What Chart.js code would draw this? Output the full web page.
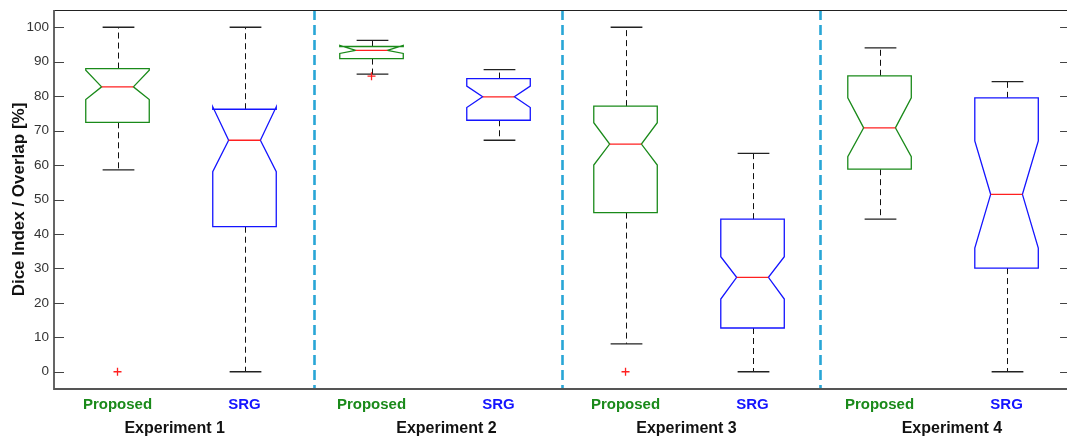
<!DOCTYPE html>
<html>
<head>
<meta charset="utf-8">
<script src="https://cdn.jsdelivr.net/npm/chart.js@4.4.1/dist/chart.umd.min.js"></script>
<style>
  html, body { margin:0; padding:0; background:#fff; overflow:hidden; }
  #box { display:block; }
</style>
</head>
<body>
<canvas id="box" width="1067" height="439"></canvas>
<script>
// ====== Data ======
const experiments = ['Experiment 1','Experiment 2','Experiment 3','Experiment 4'];
const methods     = ['Proposed','SRG'];
// one entry per box, in drawing order: E1-Proposed, E1-SRG, E2-Proposed, ...
const whiskerLo = [58.6,  0.0, 86.4, 67.2,  8.1,  0.0, 44.3,  0.0];
const q1        = [72.4, 42.1, 90.9, 73.0, 46.2, 12.7, 58.8, 30.1];
const notchLo   = [79.0, 58.1, 92.4, 76.7, 60.0, 21.1, 62.4, 35.9];
const median    = [82.7, 67.2, 93.3, 79.8, 66.1, 27.4, 70.8, 51.5];
const notchHi   = [87.5, 76.9, 94.7, 82.9, 72.3, 33.4, 79.5, 67.0];
const q3        = [88.0, 76.2, 94.4, 85.1, 77.1, 44.3, 85.9, 79.5];
const whiskerHi = [100,  100,  96.2, 87.7, 100,  63.4, 94.0, 84.2];
const outliers  = [[0], [], [85.8], [], [0], [], [], []];
const dividers  = [2.55, 4.5, 6.53];
const yTicks    = [0,10,20,30,40,50,60,70,80,90,100];

// ====== Style / layout ======
const GREEN = '#1a8a1a', BLUE = '#1414ff', RED = '#ff2020', CYAN = '#29a6d6';
const methodColor = [GREEN, BLUE];
const BOX_W = 0.5;                             // box width, x units
const X_END = 8.5;                             // axes box ends just past the picture
const groupLabelAt = [1.45, 3.59, 5.48, 7.57]; // where the experiment names sit, x units
const FONT = '"Liberation Sans", Arial, Helvetica, sans-serif';

const outlierPts = [];
outliers.forEach((arr,i) => arr.forEach(v => outlierPts.push({ x:i+1, y:v })));

// ====== Box plot plugin ======
const boxPlugin = {
  id:'boxplot',
  beforeDatasetsDraw(chart){
    const { ctx, chartArea:a, scales:{ x, y } } = chart;
    ctx.save();
    // dividers
    ctx.strokeStyle = CYAN; ctx.lineWidth = 2.6; ctx.setLineDash([10,5]);
    dividers.forEach(d => {
      const px = Math.round(x.getPixelForValue(d)) + 0.5;
      ctx.beginPath(); ctx.moveTo(px, a.top); ctx.lineTo(px, a.bottom); ctx.stroke();
    });
    median.forEach((m,i) => {
      const c = i+1;
      const L = x.getPixelForValue(c - BOX_W/2), R = x.getPixelForValue(c + BOX_W/2);
      const cx = Math.round(x.getPixelForValue(c)) + 0.5;
      const inset = (R-L)/4;
      const Y = v => y.getPixelForValue(v);
      // whiskers
      ctx.strokeStyle = '#111'; ctx.lineWidth = 1; ctx.setLineDash([6,4]);
      ctx.beginPath();
      ctx.moveTo(cx, Y(q3[i])); ctx.lineTo(cx, Y(whiskerHi[i]));
      ctx.moveTo(cx, Y(q1[i])); ctx.lineTo(cx, Y(whiskerLo[i]));
      ctx.stroke();
      ctx.setLineDash([]); ctx.lineWidth = 1.3; ctx.strokeStyle = '#222';
      ctx.beginPath();
      ctx.moveTo(cx - inset, Y(whiskerHi[i])); ctx.lineTo(cx + inset, Y(whiskerHi[i]));
      ctx.moveTo(cx - inset, Y(whiskerLo[i])); ctx.lineTo(cx + inset, Y(whiskerLo[i]));
      ctx.stroke();
      // notched box
      ctx.strokeStyle = methodColor[i % 2]; ctx.lineWidth = 1.3;
      ctx.beginPath();
      ctx.moveTo(L, Y(q1[i]));
      ctx.lineTo(L, Y(notchLo[i]));
      ctx.lineTo(L + inset, Y(median[i]));
      ctx.lineTo(L, Y(notchHi[i]));
      ctx.lineTo(L, Y(q3[i]));
      ctx.lineTo(R, Y(q3[i]));
      ctx.lineTo(R, Y(notchHi[i]));
      ctx.lineTo(R - inset, Y(median[i]));
      ctx.lineTo(R, Y(notchLo[i]));
      ctx.lineTo(R, Y(q1[i]));
      ctx.closePath();
      ctx.stroke();
      // median
      ctx.strokeStyle = RED; ctx.lineWidth = 1.3;
      ctx.beginPath(); ctx.moveTo(L + inset, Y(median[i])); ctx.lineTo(R - inset, Y(median[i])); ctx.stroke();
    });
    ctx.restore();
  },
  afterDraw(chart){
    const { ctx, chartArea:a, scales:{ x, y } } = chart;
    const right = x.getPixelForValue(X_END);
    ctx.save();
    // frame (right side falls just outside the picture)
    ctx.strokeStyle = '#222'; ctx.lineWidth = 1.2;
    ctx.beginPath(); ctx.moveTo(a.left, a.top + 0.5); ctx.lineTo(right, a.top + 0.5); ctx.stroke();
    ctx.strokeStyle = '#555'; ctx.lineWidth = 1.8;
    ctx.beginPath();
    ctx.moveTo(a.left, a.top); ctx.lineTo(a.left, a.bottom); ctx.lineTo(right, a.bottom); ctx.lineTo(right, a.top);
    ctx.stroke();
    // inward ticks on both sides
    ctx.strokeStyle = '#444'; ctx.lineWidth = 1.2;
    yTicks.forEach(v => {
      const py = Math.round(y.getPixelForValue(v)) + 0.5;
      ctx.beginPath();
      ctx.moveTo(a.left, py); ctx.lineTo(a.left + 10, py);
      ctx.moveTo(right, py); ctx.lineTo(right - 10, py);
      ctx.stroke();
    });
    // category labels
    ctx.textAlign = 'center'; ctx.textBaseline = 'alphabetic';
    ctx.font = 'bold 15px ' + FONT;
    median.forEach((m,i) => {
      ctx.fillStyle = methodColor[i % 2];
      ctx.fillText(methods[i % 2], x.getPixelForValue(i+1), a.bottom + 20);
    });
    ctx.font = 'bold 16px ' + FONT; ctx.fillStyle = '#111';
    experiments.forEach((e,g) => {
      ctx.fillText(e, x.getPixelForValue(groupLabelAt[g]), a.bottom + 44);
    });
    ctx.restore();
  }
};

new Chart(document.getElementById('box'), {
  type:'scatter',
  data:{ datasets:[{
    data: outlierPts,
    pointStyle:'cross', radius:4, borderColor:RED, borderWidth:1.3, backgroundColor:RED
  }]},
  options:{
    responsive:false, animation:false, devicePixelRatio:1,
    layout:{ autoPadding:false, padding:{ top:10, right:0, left:0, bottom:0 } },
    plugins:{ legend:{ display:false }, tooltip:{ enabled:false } },
    scales:{
      x:{ type:'linear', min:0.5, max:8.476,
          grid:{ display:false }, border:{ display:false },
          ticks:{ display:false },
          afterFit: s => { s.height = 50; s.paddingLeft = 0; s.paddingRight = 0; } },
      y:{ min:-5, max:105,
          afterBuildTicks: s => { s.ticks = yTicks.map(v => ({ value:v })); },
          grid:{ display:false, drawTicks:false, tickLength:0 }, border:{ display:false },
          ticks:{ color:'#333', font:{ family:FONT, size:13.5 }, padding:5 },
          title:{ display:true, text:'Dice Index / Overlap [%]', color:'#111',
                  font:{ family:FONT, size:17, weight:'bold' }, padding:{ top:9, bottom:0 } },
          afterFit: s => { s.width = 54; s.paddingTop = 0; s.paddingBottom = 0; } }
    }
  },
  plugins:[boxPlugin]
});
</script>
</body>
</html>
